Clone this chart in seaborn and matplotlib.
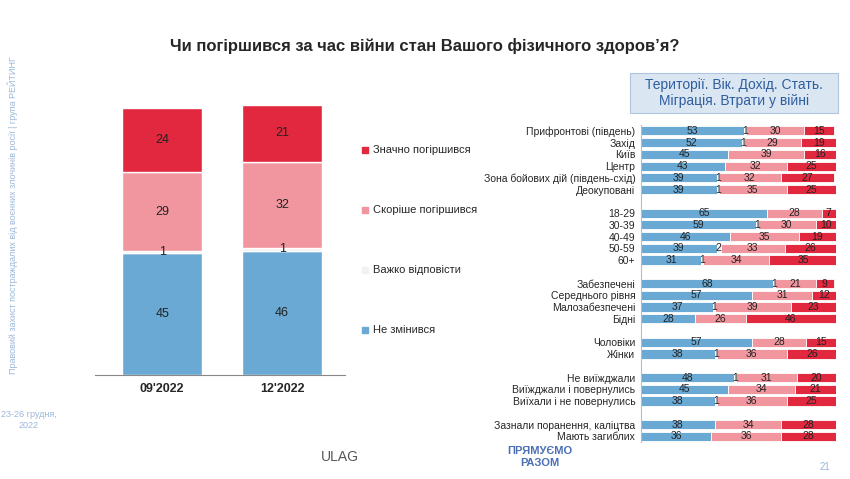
import numpy as np
import pandas as pd
import seaborn as sns
import matplotlib.pyplot as plt
from matplotlib.patches import Rectangle

sns.set_style("white")
plt.rcParams['font.family'] = ['Liberation Sans', 'DejaVu Sans']

# left chart data
waves = ["09'2022", "12'2022"]
not_changed = [45, 46]
hard_say = [1, 1]
rather_worse = [29, 32]
much_worse = [24, 21]
legend_labels = ["Значно погіршився", "Скоріше погіршився", "Важко відповісти", "Не змінився"]

# right chart data, grouped (a spacer row goes between groups)
groups = [
    ["Прифронтові (південь)", "Захід", "Київ", "Центр", "Зона бойових дій (південь-схід)", "Деокуповані"],
    ["18-29", "30-39", "40-49", "50-59", "60+"],
    ["Забезпечені", "Середнього рівня", "Малозабезпечені", "Бідні"],
    ["Чоловіки", "Жінки"],
    ["Не виїжджали", "Виїжджали і повернулись", "Виїхали і не повернулись"],
    ["Зазнали поранення, каліцтва", "Мають загиблих"],
]
r_not = [53, 52, 45, 43, 39, 39, 65, 59, 46, 39, 31, 68, 57, 37, 28, 57, 38, 48, 45, 38, 38, 36]
r_hard = [1, 1, 0, 0, 1, 1, 0, 1, 0, 2, 1, 1, 0, 1, 0, 0, 1, 1, 0, 1, 0, 0]
r_rather = [30, 29, 39, 32, 32, 35, 28, 30, 35, 33, 34, 21, 31, 39, 26, 28, 36, 31, 34, 36, 34, 36]
r_much = [15, 19, 16, 25, 27, 25, 7, 10, 19, 26, 35, 9, 12, 23, 46, 15, 26, 20, 21, 25, 28, 28]

BLUE, GREY, PINK, RED = "#6aa9d3", "#f2f2f2", "#f1959f", "#e1283f"
colors = [BLUE, GREY, PINK, RED]

fig = plt.figure(figsize=(8.5, 4.79), dpi=100)
fig.patch.set_facecolor("white")

fig.text(0.5, 0.905, "Чи погіршився за час війни стан Вашого фізичного здоров’я?",
         ha="center", va="center", fontsize=12, fontweight="bold")

# left stacked bars
ax = fig.add_axes([0.112, 0.217, 0.294, 0.564])
df = pd.DataFrame({"wave": waves, "not": not_changed, "hard": hard_say,
                   "rather": rather_worse, "much": much_worse})
bottom = np.zeros(len(df))
for col, c in zip(["not", "hard", "rather", "much"], colors):
    vals = df[col].values
    ax.bar(np.arange(len(df)), vals, bottom=bottom, width=0.67, color=c,
           edgecolor="white", linewidth=1)
    for i, v in enumerate(vals):
        ax.text(i, bottom[i] + v / 2, str(v), ha="center", va="center", fontsize=9, color="#222222")
    bottom += vals
ax.set_xlim(-0.558, 1.525)
ax.set_ylim(0, 100)
ax.set_xticks(range(len(df)))
ax.set_xticklabels(waves, fontweight="bold", fontsize=9)
ax.set_yticks([])
for s in ["top", "right", "left"]:
    ax.spines[s].set_visible(False)
ax.spines["bottom"].set_color("#888888")
ax.tick_params(axis="x", length=0, pad=6)

# legend
for y, lab, c in zip([150, 210, 270, 330], legend_labels, [RED, PINK, GREY, BLUE]):
    fig.patches.append(Rectangle((362 / 850, 1 - (y + 3) / 479), 6 / 850, 6 / 479,
                                 transform=fig.transFigure, color=c))
    fig.text(373 / 850, 1 - y / 479, lab, fontsize=8, va="center")

# header box
fig.patches.append(Rectangle((630 / 850, 1 - 113 / 479), 208 / 850, 40 / 479,
                             transform=fig.transFigure, facecolor="#dbe6f3",
                             edgecolor="#b0c4de", linewidth=0.8))
fig.text(734 / 850, 1 - 93 / 479, "Території. Вік. Дохід. Стать.\nМіграція. Втрати у війні",
         ha="center", va="center", fontsize=10, color="#2f5d9e", linespacing=1.1)

# right stacked bars
labels, ypos = [], []
slot = 0
for g in groups:
    for lab in g:
        labels.append(lab)
        ypos.append(slot)
        slot += 1
    slot += 1
nslots = slot - 1
ypos = np.array(ypos)

ax2 = fig.add_axes([0.754, 0.077, 0.229, 0.662])
left = np.zeros(len(labels))
for vals, c in zip([r_not, r_hard, r_rather, r_much], colors):
    vals = np.array(vals)
    ax2.barh(ypos, vals, left=left, height=0.78, color=c, edgecolor="white", linewidth=0.6)
    for y, l, v in zip(ypos, left, vals):
        if v > 0:
            ax2.text(l + v / 2, y, str(v), ha="center", va="center", fontsize=7.5, color="#222222")
    left += vals
ax2.set_xlim(0, 100)
ax2.set_ylim(nslots - 0.5, -0.5)
ax2.set_yticks(ypos)
ax2.set_yticklabels(labels, fontsize=7.5)
ax2.set_xticks([])
ax2.tick_params(axis="y", length=0, pad=4)
for s in ["top", "right", "bottom"]:
    ax2.spines[s].set_visible(False)
ax2.spines["left"].set_color("#bbbbbb")

# side texts
fig.text(13 / 850, 0.55, "Правовий захист постраждалих від воєнних злочинів росії | група РЕЙТИНГ",
         rotation=90, ha="center", va="center", fontsize=6.5, color="#9bb7d9")
fig.text(29 / 850, 1 - 420 / 479, "23-26 грудня,\n2022", ha="center", va="center",
         fontsize=6.5, color="#9bb7d9")
fig.text(825 / 850, 1 - 467 / 479, "21", ha="center", va="center", fontsize=7, color="#9bb7d9")
fig.text(340 / 850, 1 - 457 / 479, "ULAG", ha="center", va="center", fontsize=10, color="#555555")
fig.text(540 / 850, 1 - 457 / 479, "ПРЯМУЄМО\nРАЗОМ", ha="center", va="center",
         fontsize=8, color="#4a6fb5", fontweight="bold")

fig.savefig("out.png", dpi=100)
